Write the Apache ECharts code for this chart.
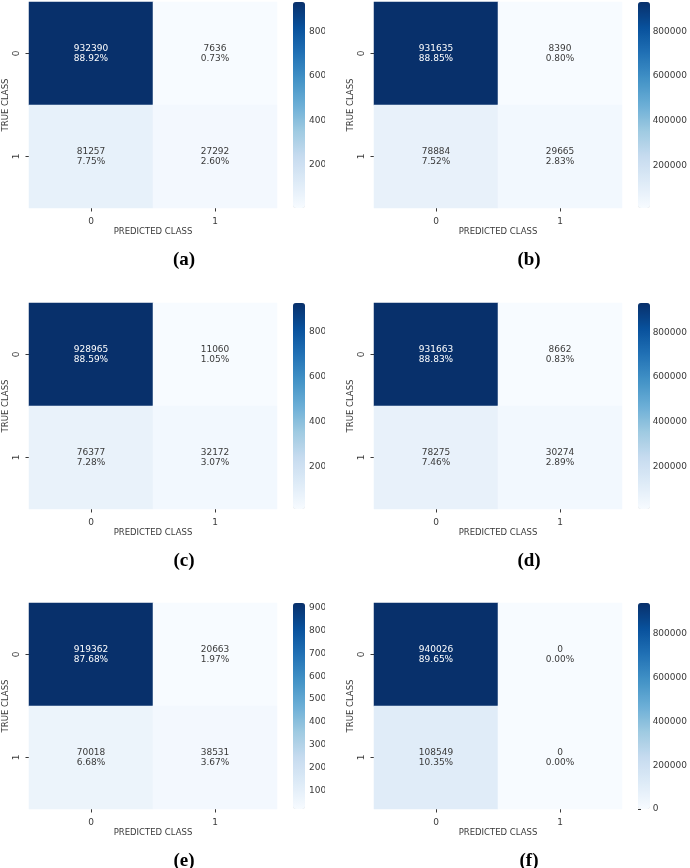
<!DOCTYPE html>
<html>
<head>
<meta charset="utf-8">
<script src="https://cdn.jsdelivr.net/npm/echarts@6/dist/echarts.min.js"></script>
<style>html,body{margin:0;padding:0;background:#fff}#c{width:690px;height:868px}</style>
</head>
<body>
<div id="c"></div>
<script>
// ---- data ----
const classes = ['0', '1'];
const panelCaptions = ['(a)', '(b)', '(c)', '(d)', '(e)', '(f)'];
const countsA = [[932390, 7636], [81257, 27292]];
const pctA = [['88.92%', '0.73%'], ['7.75%', '2.60%']];
const countsB = [[931635, 8390], [78884, 29665]];
const pctB = [['88.85%', '0.80%'], ['7.52%', '2.83%']];
const countsC = [[928965, 11060], [76377, 32172]];
const pctC = [['88.59%', '1.05%'], ['7.28%', '3.07%']];
const countsD = [[931663, 8662], [78275, 30274]];
const pctD = [['88.83%', '0.83%'], ['7.46%', '2.89%']];
const countsE = [[919362, 20663], [70018, 38531]];
const pctE = [['87.68%', '1.97%'], ['6.68%', '3.67%']];
const countsF = [[940026, 0], [108549, 0]];
const pctF = [['89.65%', '0.00%'], ['10.35%', '0.00%']];
const ticksA = [200000, 400000, 600000, 800000];
const ticksB = [200000, 400000, 600000, 800000];
const ticksC = [200000, 400000, 600000, 800000];
const ticksD = [200000, 400000, 600000, 800000];
const ticksE = [100000, 200000, 300000, 400000, 500000, 600000, 700000, 800000, 900000];
const ticksF = [0, 200000, 400000, 600000, 800000];
const xTitle = 'PREDICTED CLASS';
const yTitle = 'TRUE CLASS';

const panels = [
  {counts: countsA, pct: pctA, ticks: ticksA},
  {counts: countsB, pct: pctB, ticks: ticksB},
  {counts: countsC, pct: pctC, ticks: ticksC},
  {counts: countsD, pct: pctD, ticks: ticksD},
  {counts: countsE, pct: pctE, ticks: ticksE},
  {counts: countsF, pct: pctF, ticks: ticksF}
];

const blues = ['#f7fbff', '#deebf7', '#c6dbef', '#9ecae1', '#6baed6', '#4292c6', '#2171b5', '#08519c', '#08306b'];
const FONT = 'DejaVu Sans';
const TXT = '#3a3a3a';
const rowTops = [2, 303, 603];
const colLefts = [0, 345];
const HW = 248, HH = 206;

const grid = [], xAxis = [], yAxis = [], series = [], visualMap = [], title = [];

panels.forEach((p, i) => {
  const ox = colLefts[i % 2], oy = rowTops[Math.floor(i / 2)];
  const flat = p.counts.flat();
  const vmin = Math.min(...flat), vmax = Math.max(...flat);
  // heatmap grid
  const gi = grid.length;
  grid.push({left: ox + 29, top: oy, width: HW, height: HH});
  xAxis.push({
    type: 'category', data: classes, gridIndex: gi,
    axisLine: {show: false}, splitArea: {show: false}, splitLine: {show: false},
    axisTick: {show: true, alignWithLabel: true, length: 3.5, lineStyle: {color: TXT}},
    axisLabel: {fontFamily: FONT, fontSize: 9, color: TXT, margin: 9},
    name: xTitle, nameLocation: 'middle', nameGap: 18,
    nameTextStyle: {fontFamily: FONT, fontSize: 8.5, color: TXT, verticalAlign: 'top'}
  });
  yAxis.push({
    type: 'category', data: classes, gridIndex: gi, inverse: true,
    axisLine: {show: false}, splitArea: {show: false}, splitLine: {show: false},
    axisTick: {show: true, alignWithLabel: true, length: 3.5, lineStyle: {color: TXT}},
    axisLabel: {fontFamily: FONT, fontSize: 9, color: TXT, margin: 8, rotate: 90},
    name: yTitle, nameLocation: 'middle', nameGap: 19,
    nameTextStyle: {fontFamily: FONT, fontSize: 8.5, color: TXT}
  });
  const data = [];
  p.counts.forEach((row, r) => row.forEach((v, c) => {
    data.push({
      value: [c, r, v],
      label: {color: v > vmin + 0.5 * (vmax - vmin) ? '#ffffff' : TXT},
      pctText: p.pct[r][c]
    });
  }));
  const si = series.length;
  series.push({
    type: 'heatmap', xAxisIndex: gi, yAxisIndex: gi, data: data,
    label: {
      show: true, fontFamily: FONT, fontSize: 9, lineHeight: 10,
      formatter: (prm) => prm.value[2] + '\n' + prm.data.pctText
    },
    itemStyle: {borderWidth: 0},
    emphasis: {disabled: true}
  });
  visualMap.push({
    type: 'continuous', seriesIndex: si, min: vmin, max: vmax,
    calculable: false, realtime: false, hoverLink: false,
    left: ox + 293, top: oy, itemWidth: 12, itemHeight: HH, padding: 0,
    text: null, showLabel: false,
    inRange: {color: blues}
  });
  // colorbar axis
  const ci = grid.length;
  grid.push({left: ox + 293, top: oy, width: 12, height: HH});
  xAxis.push({type: 'value', gridIndex: ci, show: false, min: 0, max: 1});
  yAxis.push({
    type: 'value', gridIndex: ci, position: 'right', min: vmin, max: vmax,
    axisLine: {show: false}, splitLine: {show: false},
    axisTick: {show: true, length: 3, lineStyle: {color: TXT}, customValues: p.ticks},
    axisLabel: {fontFamily: FONT, fontSize: 9, color: TXT, margin: 4, customValues: p.ticks,
      formatter: (v) => String(Math.round(v))}
  });
  title.push({
    text: panelCaptions[i], left: ox + 179, top: oy + 244, textAlign: 'center',
    textStyle: {fontFamily: 'Liberation Serif', fontWeight: 'bold', fontSize: 19, color: '#000'}
  });
});

const chart = echarts.init(document.getElementById('c'), null, {renderer: 'canvas'});
chart.setOption({
  animation: false,
  backgroundColor: '#ffffff',
  title, grid, xAxis, yAxis, series, visualMap,
  graphic: [{type: 'rect', left: 325, top: 0, z: 100, shape: {width: 20, height: 868}, style: {fill: '#ffffff'}}]
});
</script>
</body>
</html>
